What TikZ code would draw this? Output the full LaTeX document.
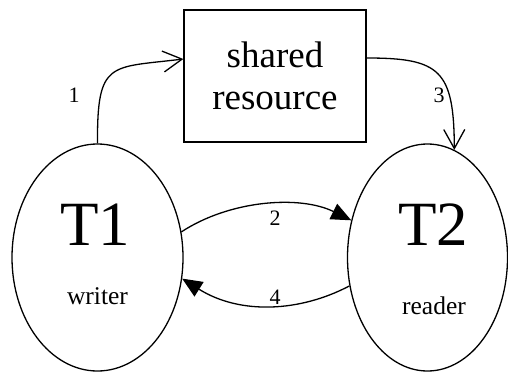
\documentclass[tikz,border=0pt]{standalone}
\usepackage{fontspec}
\setmainfont{Liberation Serif}
\usetikzlibrary{arrows.meta,shapes.geometric}

\tikzset{
  thread/.style={draw, ellipse, line width=1.3pt, inner sep=0pt,
                 minimum width=171pt, minimum height=227pt},
  resbox/.style={draw, rectangle, line width=1.3pt, inner sep=0pt,
                 minimum width=182pt, minimum height=132pt,
                 align=center, font=\fontsize{37}{42}\selectfont},
  bigname/.style={inner sep=0pt, anchor=base, font=\fontsize{63}{63}\selectfont},
  rolename/.style={inner sep=0pt, anchor=base, font=\fontsize{25.5}{26}\selectfont},
  steplabel/.style={inner sep=0pt, font=\fontsize{22}{22}\selectfont},
  openflow/.style={line width=1.3pt, -{Straight Barb[length=19pt, width=21pt, line width=1.3pt]}},
  solidflow/.style={line width=1.3pt, -{Triangle[length=20pt, width=17pt]}}
}

\begin{document}
\begin{tikzpicture}[x=1pt, y=-1pt]
  \useasboundingbox (0,0) rectangle (508,372);

  % shared resource and the two threads
  \node[resbox] (res) at (275,76) {shared\\resource};
  \node[thread] (t1) at (97.5,257.5) {};
  \node[thread, minimum width=160pt] (t2) at (427.5,257.5) {};

  % thread captions
  \node[bigname]  (t1name) at (95,245)  {T1};
  \node[rolename] (t1role) at (97.5,304) {writer};
  \node[bigname]  (t2name) at (433,245) {T2};
  \node[rolename] (t2role) at (434,314) {reader};

  % step 1: writer updates the resource
  \draw[openflow] (t1.north) .. controls (97,60) and (110,68) .. ([yshift=17pt]res.west);
  % step 3: reader reads the resource
  \draw[openflow] ([yshift=18pt]res.east) .. controls (440,58) and (454,70) .. (t2.76);
  % step 2: writer signals reader
  \draw[solidflow] (t1.17) .. controls (230,200) and (300,195) .. (t2.154);
  % step 4: reader answers writer
  \draw[solidflow] (t2.200) .. controls (300,312) and (240,315) .. (t1.346);

  % step numbers
  \node[steplabel] (n1) at (74,95)   {1};
  \node[steplabel] (n2) at (275,218) {2};
  \node[steplabel] (n3) at (439,95)  {3};
  \node[steplabel] (n4) at (275,297) {4};
\end{tikzpicture}
\end{document}
